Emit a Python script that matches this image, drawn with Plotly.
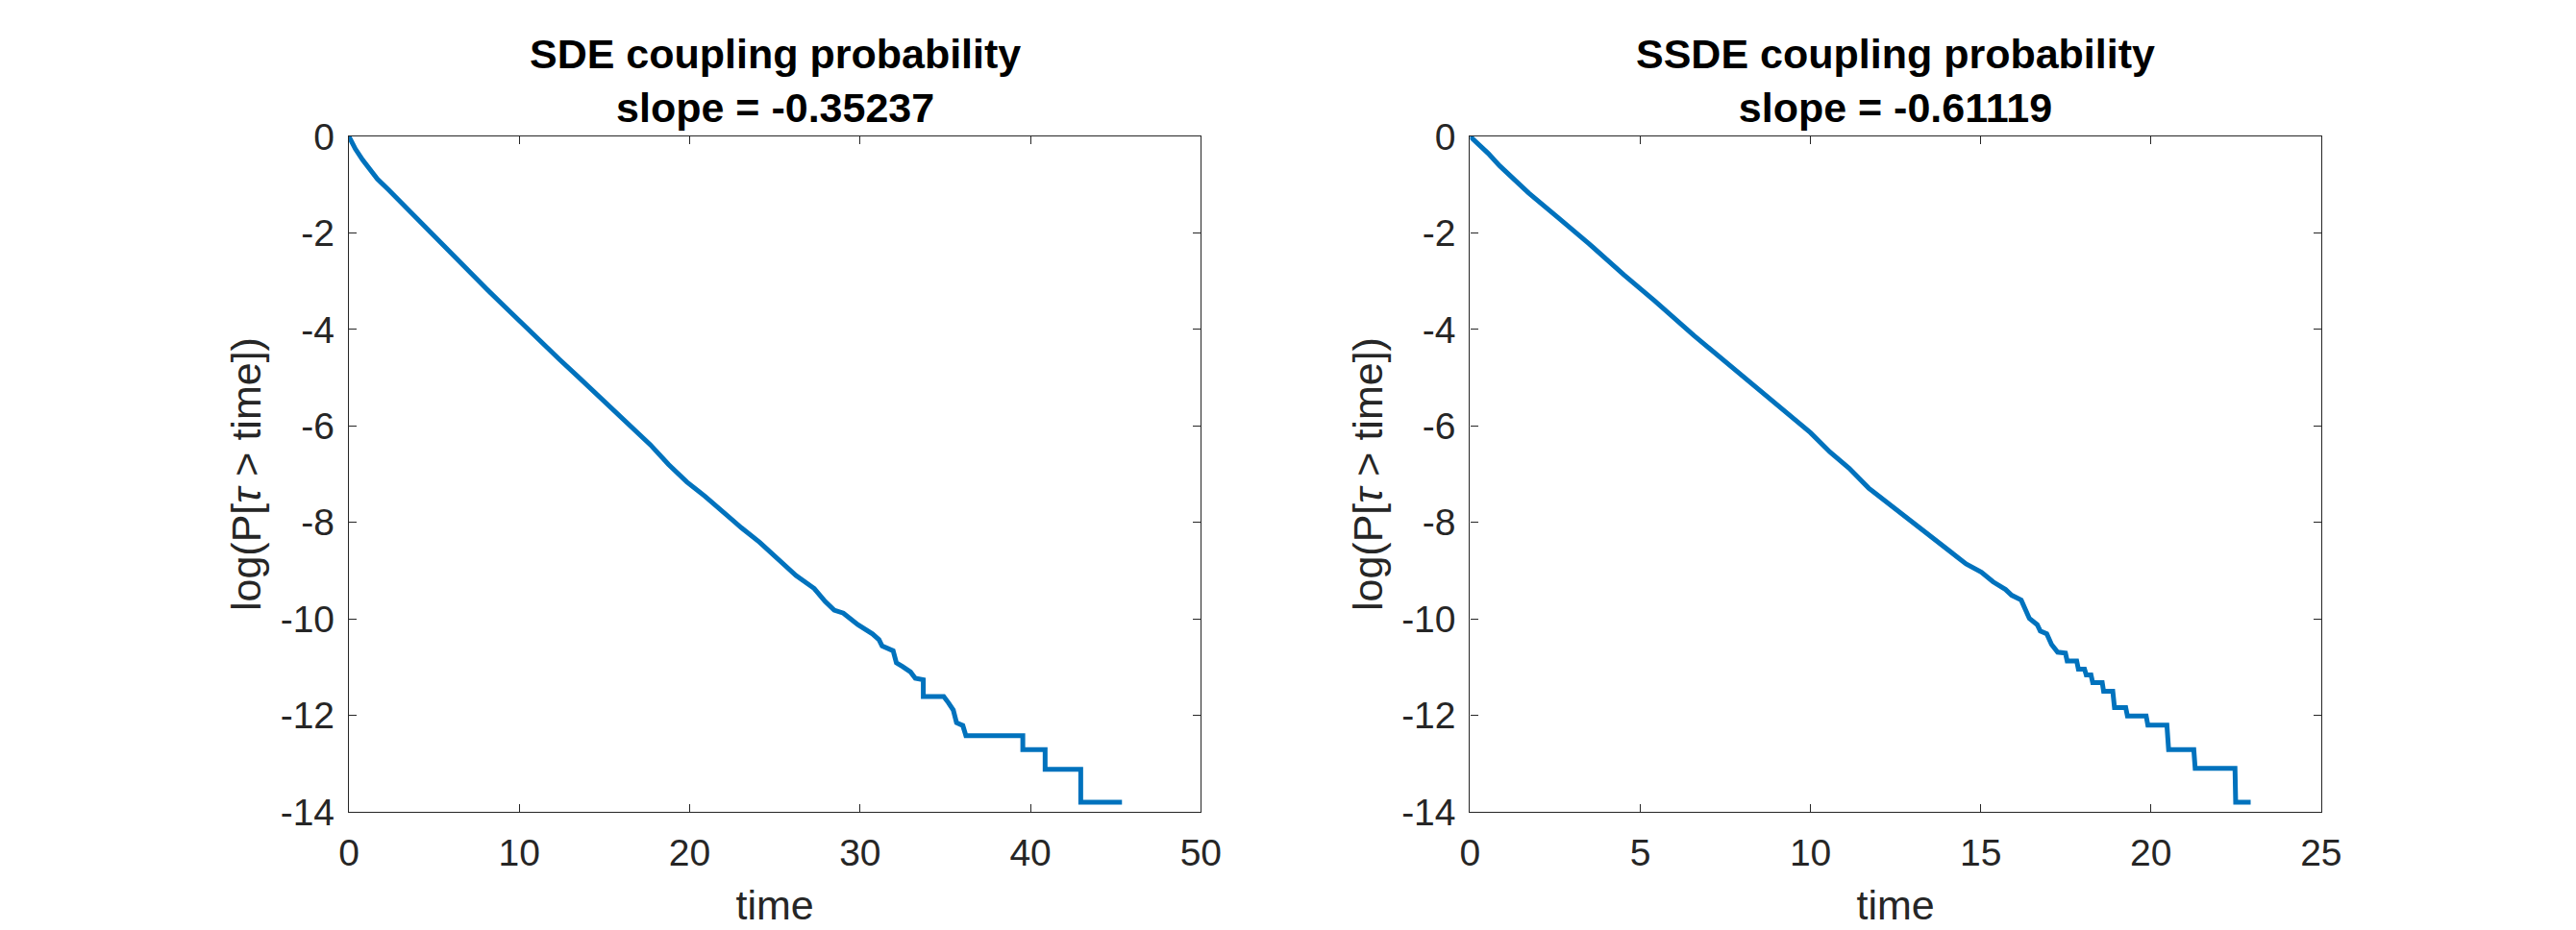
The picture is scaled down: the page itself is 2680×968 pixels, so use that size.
import plotly.graph_objects as go

# SDE survival curve
sde_time = [0, 0.38, 0.81, 1.24, 1.67, 2.31, 2.95, 3.80, 4.79, 5.94, 7.11, 8.08, 9.15,
            10.21, 11.28, 12.35, 13.42, 14.49, 15.56, 16.62, 17.69, 18.76, 19.83, 20.90,
            21.97, 23.03, 24.10, 25.17, 26.24, 27.31, 27.95, 28.48, 29.02, 29.87, 30.73,
            31.11, 31.29, 31.94, 32.13, 32.50, 32.96, 33.24, 33.52, 33.71, 33.71, 34.91,
            35.19, 35.47, 35.66, 36.03, 36.21, 39.55, 39.55, 40.86, 40.86, 42.95, 42.95,
            45.37]
sde_logp = [0, -0.26, -0.49, -0.70, -0.88, -1.10, -1.33, -1.63, -2.00, -2.41, -2.82, -3.16,
            -3.53, -3.90, -4.27, -4.62, -4.97, -5.33, -5.69, -6.04, -6.39, -6.80, -7.16,
            -7.46, -7.80, -8.11, -8.41, -8.76, -9.10, -9.37, -9.64, -9.82, -9.88, -10.12,
            -10.31, -10.43, -10.56, -10.66, -10.91, -10.99, -11.10, -11.23, -11.26, -11.26,
            -11.61, -11.61, -11.74, -11.89, -12.15, -12.21, -12.42, -12.42, -12.71, -12.71,
            -13.12, -13.12, -13.80, -13.80]

# SSDE survival curve
ssde_time = [0, 0.24, 0.53, 0.87, 1.21, 1.72, 2.58, 3.49, 4.52, 5.43, 6.58, 7.72, 8.86,
             9.43, 10.00, 10.57, 11.14, 11.71, 12.28, 12.85, 13.42, 13.99, 14.57, 15.02,
             15.36, 15.73, 15.91, 16.19, 16.43, 16.66, 16.75, 16.94, 17.08, 17.26, 17.49,
             17.54, 17.82, 17.87, 18.05, 18.10, 18.24, 18.29, 18.57, 18.61, 18.88, 18.93,
             19.26, 19.31, 19.86, 19.91, 20.47, 20.52, 21.26, 21.30, 22.47, 22.49, 22.93]
ssde_logp = [0, -0.15, -0.35, -0.61, -0.83, -1.17, -1.68, -2.22, -2.87, -3.41, -4.13,
             -4.81, -5.46, -5.83, -6.14, -6.54, -6.88, -7.29, -7.60, -7.90, -8.21, -8.55,
             -8.86, -9.03, -9.23, -9.39, -9.51, -9.61, -9.99, -10.12, -10.25, -10.31,
             -10.53, -10.69, -10.71, -10.87, -10.87, -11.04, -11.04, -11.16, -11.16,
             -11.32, -11.32, -11.50, -11.50, -11.84, -11.84, -12.01, -12.01, -12.20,
             -12.20, -12.71, -12.71, -13.10, -13.10, -13.80, -13.80]

titles = ["SDE coupling probability<br>slope = -0.35237",
          "SSDE coupling probability<br>slope = -0.61119"]

# tick values and labels (MATLAB style hyphen minus)
y_ticks = [-14, -12, -10, -8, -6, -4, -2, 0]
y_labels = ["-14", "-12", "-10", "-8", "-6", "-4", "-2", "0"]
x_ticks = [[0, 10, 20, 30, 40, 50], [0, 5, 10, 15, 20, 25]]
x_labels = [["0", "10", "20", "30", "40", "50"], ["0", "5", "10", "15", "20", "25"]]

FONT = "Liberation Sans, Arial, Helvetica, sans-serif"
INK = "#262626"
BLUE = "#0072BD"

fig = go.Figure()

fig.add_trace(go.Scatter(x=sde_time, y=sde_logp, mode="lines",
                         line=dict(color=BLUE, width=5), xaxis="x", yaxis="y"))
fig.add_trace(go.Scatter(x=ssde_time, y=ssde_logp, mode="lines",
                         line=dict(color=BLUE, width=5), xaxis="x2", yaxis="y2"))

domains = [[0.12996, 0.46481], [0.57063, 0.90511]]
ydom = [0.11777, 0.87779]


def axis_style():
    return dict(showline=True, linecolor=INK, linewidth=1.3, mirror="ticks",
                ticks="inside", ticklen=8, tickwidth=1.3, tickcolor=INK,
                showgrid=False, zeroline=False,
                tickfont=dict(family=FONT, size=39, color=INK))


layout = dict(width=2680, height=968, margin=dict(l=0, r=0, t=0, b=0),
              paper_bgcolor="white", plot_bgcolor="white", showlegend=False,
              font=dict(family=FONT, color=INK))

annotations = []
for i in range(2):
    sfx = "" if i == 0 else "2"
    xa = axis_style()
    xa.update(domain=domains[i], range=[x_ticks[i][0], x_ticks[i][-1]],
              tickmode="array", tickvals=x_ticks[i], ticktext=x_labels[i],
              anchor="y" + sfx, ticklabelstandoff=8,
              title=dict(text="time", font=dict(family=FONT, size=43, color=INK), standoff=18))
    ya = axis_style()
    ya.update(domain=ydom, range=[y_ticks[0], y_ticks[-1]],
              tickmode="array", tickvals=y_ticks, ticktext=y_labels,
              anchor="x" + sfx, ticklabelstandoff=6,
              title=dict(text="log(P[<i>τ</i> &gt; time])",
                         font=dict(family=FONT, size=43, color=INK), standoff=6))
    layout["xaxis" + sfx] = xa
    layout["yaxis" + sfx] = ya
    annotations.append(dict(text=titles[i], x=sum(domains[i]) / 2, y=ydom[1],
                            xref="paper", yref="paper", xanchor="center", yanchor="bottom",
                            showarrow=False, yshift=4,
                            font=dict(family=FONT, size=43, color="black", weight="bold")))

layout["annotations"] = annotations
fig.update_layout(**layout)

fig.write_html("out.html")
